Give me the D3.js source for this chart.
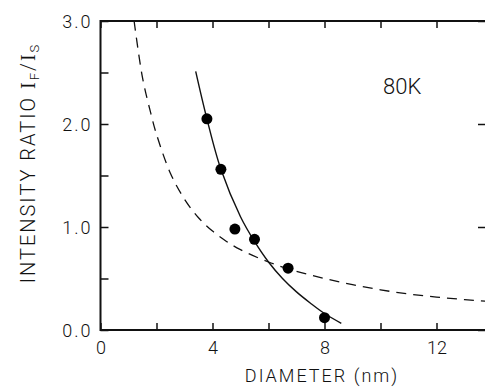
<!DOCTYPE html>
<html>
<head>
<meta charset="utf-8">
<script src="https://cdn.jsdelivr.net/npm/d3@7"></script>
<style>
  body { margin: 0; background: #fff; }
  svg text { font-family: Roboto, "Liberation Sans", Arial, sans-serif; font-weight: 300; fill: #111; }
</style>
</head>
<body>
<svg id="chart" width="485" height="387"></svg>
<script>
// measured points (diameter nm, ratio)
var pointX = [3.8, 4.3, 4.8, 5.5, 6.7, 8.0];
var pointY = [2.05, 1.56, 0.98, 0.88, 0.6, 0.12];

// solid fit curve
var solidX = [3.4, 3.8, 4.3, 5.0, 5.5, 6.0, 6.5, 7.0, 7.5, 8.0, 8.6];
var solidY = [2.51, 2.05, 1.56, 1.1, 0.86, 0.66, 0.5, 0.37, 0.26, 0.16, 0.065];

// dashed curve
var dashX = [1.2, 1.5, 1.8, 2.0, 2.5, 3.0, 3.5, 4.0, 4.5, 5.0, 6.0, 7.0, 8.0, 9.0, 10.0, 11.0, 12.0, 13.0, 14.0];
var dashY = [3.0, 2.45, 2.1, 1.9, 1.52, 1.27, 1.09, 0.96, 0.86, 0.78, 0.66, 0.57, 0.5, 0.44, 0.39, 0.35, 0.32, 0.295, 0.275];

var xTicks = [0, 2, 4, 6, 8, 10, 12];
var xLabels = [0, 4, 8, 12];
var yTicks = [0, 0.5, 1, 1.5, 2, 2.5, 3];
var yLabels = [0, 1, 2, 3];

// plot box (window.top is reserved, so prefixed names)
var pLeft = 100.5, pRight = 486, pTop = 21, pBottom = 330;

var svg = d3.select("#chart");

var x = d3.scaleLinear().domain([0, 14]).range([pLeft, pLeft + 28 * 14]);
var y = d3.scaleLinear().domain([0, 3]).range([pBottom, pTop]);

function styleAxis(g) {
    g.select(".domain").remove();
    g.selectAll(".tick line").attr("stroke", "#111").attr("stroke-width", 1.5);
}

// bottom axis
svg.append("g")
    .attr("transform", `translate(0,${pBottom})`)
    .call(d3.axisBottom(x).tickValues(xTicks).tickSize(-7).tickPadding(8)
        .tickFormat(function (d) { return xLabels.includes(d) ? d : ""; }))
    .call(styleAxis)
    .selectAll("text")
    .attr("font-size", 18)
    .attr("dy", "0.9em");

// top axis
svg.append("g")
    .attr("transform", `translate(0,${pTop})`)
    .call(d3.axisTop(x).tickValues(xTicks).tickSize(-7).tickFormat(""))
    .call(styleAxis);

// left axis
svg.append("g")
    .attr("transform", `translate(${pLeft},0)`)
    .call(d3.axisLeft(y).tickValues(yTicks).tickSize(-8).tickPadding(8)
        .tickFormat(function (d) { return yLabels.includes(d) ? d3.format(".1f")(d) : ""; }))
    .call(styleAxis)
    .selectAll("text")
    .attr("font-size", 18)
    .attr("letter-spacing", 2)
    .attr("dy", "0.38em");

// right axis (majors only)
svg.append("g")
    .attr("transform", `translate(${pRight},0)`)
    .call(d3.axisRight(y).tickValues(yLabels).tickSize(-8).tickFormat(""))
    .call(styleAxis);

// frame
svg.append("path")
    .attr("d", `M${pRight},${pTop}H${pLeft}V${pBottom}H${pRight}`)
    .attr("fill", "none")
    .attr("stroke", "#111")
    .attr("stroke-width", 2);

var plot = svg.append("g");

plot.append("clipPath").attr("id", "clip")
    .append("rect").attr("x", pLeft).attr("y", pTop)
    .attr("width", pRight - pLeft).attr("height", pBottom - pTop);

var line = d3.line()
    .x(function (d) { return x(d[0]); })
    .y(function (d) { return y(d[1]); })
    .curve(d3.curveCatmullRom);

plot.append("path")
    .datum(d3.zip(dashX, dashY))
    .attr("clip-path", "url(#clip)")
    .attr("d", line)
    .attr("fill", "none")
    .attr("stroke", "#111")
    .attr("stroke-width", 1.3)
    .attr("stroke-dasharray", "10,7");

plot.append("path")
    .datum(d3.zip(solidX, solidY))
    .attr("d", line)
    .attr("fill", "none")
    .attr("stroke", "#111")
    .attr("stroke-width", 1.4);

plot.selectAll("circle")
    .data(d3.zip(pointX, pointY))
    .join("circle")
    .attr("cx", function (d) { return x(d[0]); })
    .attr("cy", function (d) { return y(d[1]); })
    .attr("r", 5.5)
    .attr("fill", "#000");

// labels
svg.append("text")
    .attr("x", 383)
    .attr("y", 94)
    .attr("font-size", 22)
    .text("80K");

svg.append("text")
    .attr("x", 322)
    .attr("y", 382)
    .attr("text-anchor", "middle")
    .attr("font-size", 18)
    .attr("letter-spacing", 2)
    .text("DIAMETER (nm)");

var yl = svg.append("text")
    .attr("transform", "translate(35,163) rotate(-90)")
    .attr("text-anchor", "middle")
    .attr("font-size", 20)
    .attr("letter-spacing", 2);
yl.append("tspan").text("INTENSITY RATIO ");
yl.append("tspan").attr("font-family", "Liberation Serif, serif").text("I");
yl.append("tspan").attr("font-size", 13).attr("dy", 4).text("F");
yl.append("tspan").attr("dy", -4).text("/");
yl.append("tspan").attr("font-family", "Liberation Serif, serif").text("I");
yl.append("tspan").attr("font-size", 13).attr("dy", 4).text("S");
</script>
</body>
</html>
